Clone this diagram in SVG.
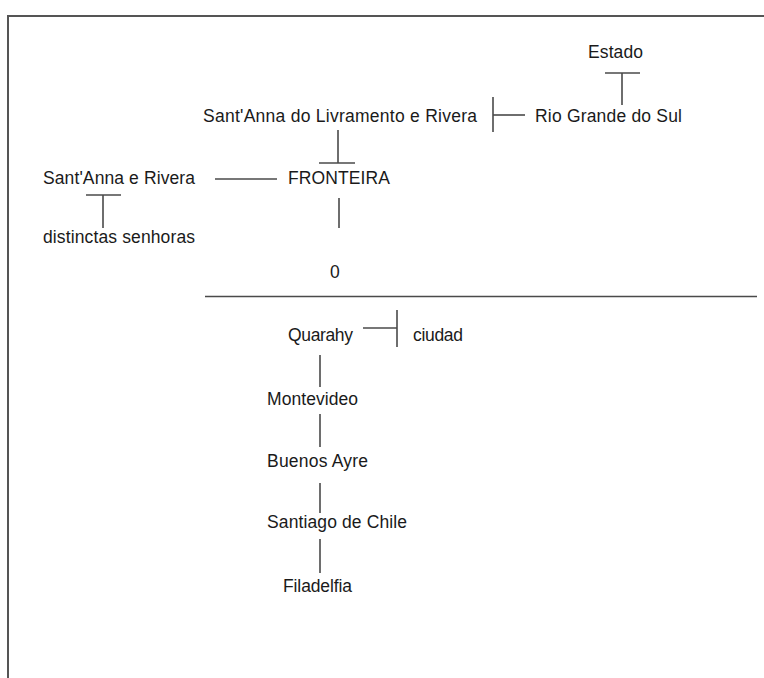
<svg xmlns="http://www.w3.org/2000/svg" width="764" height="678" viewBox="0 0 764 678">
<style>
text{font-family:"Liberation Sans",Arial,sans-serif;font-size:17.5px;fill:#1a1a1a}
.c line{stroke:#4a4a4a;stroke-width:1.6}
.frame{stroke:#555;stroke-width:2;fill:none}
</style>
<rect width="764" height="678" fill="#fff"/>
<path class="frame" d="M8,680 V16 H766"/>
<g class="c">
<line x1="605" y1="73" x2="640" y2="73"/>
<line x1="622" y1="73" x2="622" y2="105"/>
<line x1="493" y1="97" x2="493" y2="132"/>
<line x1="493" y1="115" x2="525" y2="115"/>
<line x1="338" y1="130" x2="338" y2="163"/>
<line x1="319" y1="163" x2="355" y2="163"/>
<line x1="215" y1="179" x2="277" y2="179"/>
<line x1="86" y1="195" x2="121" y2="195"/>
<line x1="103" y1="195" x2="103" y2="228"/>
<line x1="339" y1="198" x2="339" y2="228"/>
<line x1="205" y1="296.5" x2="757" y2="296.5"/>
<line x1="363" y1="328" x2="397" y2="328"/>
<line x1="397" y1="310" x2="397" y2="347"/>
<line x1="320" y1="355" x2="320" y2="387"/>
<line x1="320" y1="414" x2="320" y2="447"/>
<line x1="320" y1="483" x2="320" y2="513"/>
<line x1="320" y1="539" x2="320" y2="573"/>
</g>
<g id="estado"><text x="588" y="58" textLength="55" lengthAdjust="spacing">Estado</text></g>
<g id="rio-grande"><text x="535" y="122" textLength="147" lengthAdjust="spacing">Rio Grande do Sul</text></g>
<g id="santanna-livramento"><text x="203" y="122" textLength="274" lengthAdjust="spacing">Sant'Anna do Livramento e Rivera</text></g>
<g id="fronteira"><text x="288" y="184" textLength="102" lengthAdjust="spacing">FRONTEIRA</text></g>
<g id="santanna-rivera"><text x="43" y="184" textLength="152" lengthAdjust="spacing">Sant'Anna e Rivera</text></g>
<g id="distinctas"><text x="43" y="243" textLength="152" lengthAdjust="spacing">distinctas senhoras</text></g>
<g id="zero"><text x="330" y="278" textLength="9" lengthAdjust="spacing">0</text></g>
<g id="quarahy"><text x="288" y="341" textLength="65" lengthAdjust="spacing">Quarahy</text></g>
<g id="ciudad"><text x="413" y="341" textLength="50" lengthAdjust="spacing">ciudad</text></g>
<g id="montevideo"><text x="267" y="405" textLength="91" lengthAdjust="spacing">Montevideo</text></g>
<g id="buenos-ayre"><text x="267" y="467" textLength="101" lengthAdjust="spacing">Buenos Ayre</text></g>
<g id="santiago"><text x="267" y="528" textLength="140" lengthAdjust="spacing">Santiago de Chile</text></g>
<g id="filadelfia"><text x="283" y="592" textLength="69" lengthAdjust="spacing">Filadelfia</text></g>
</svg>
